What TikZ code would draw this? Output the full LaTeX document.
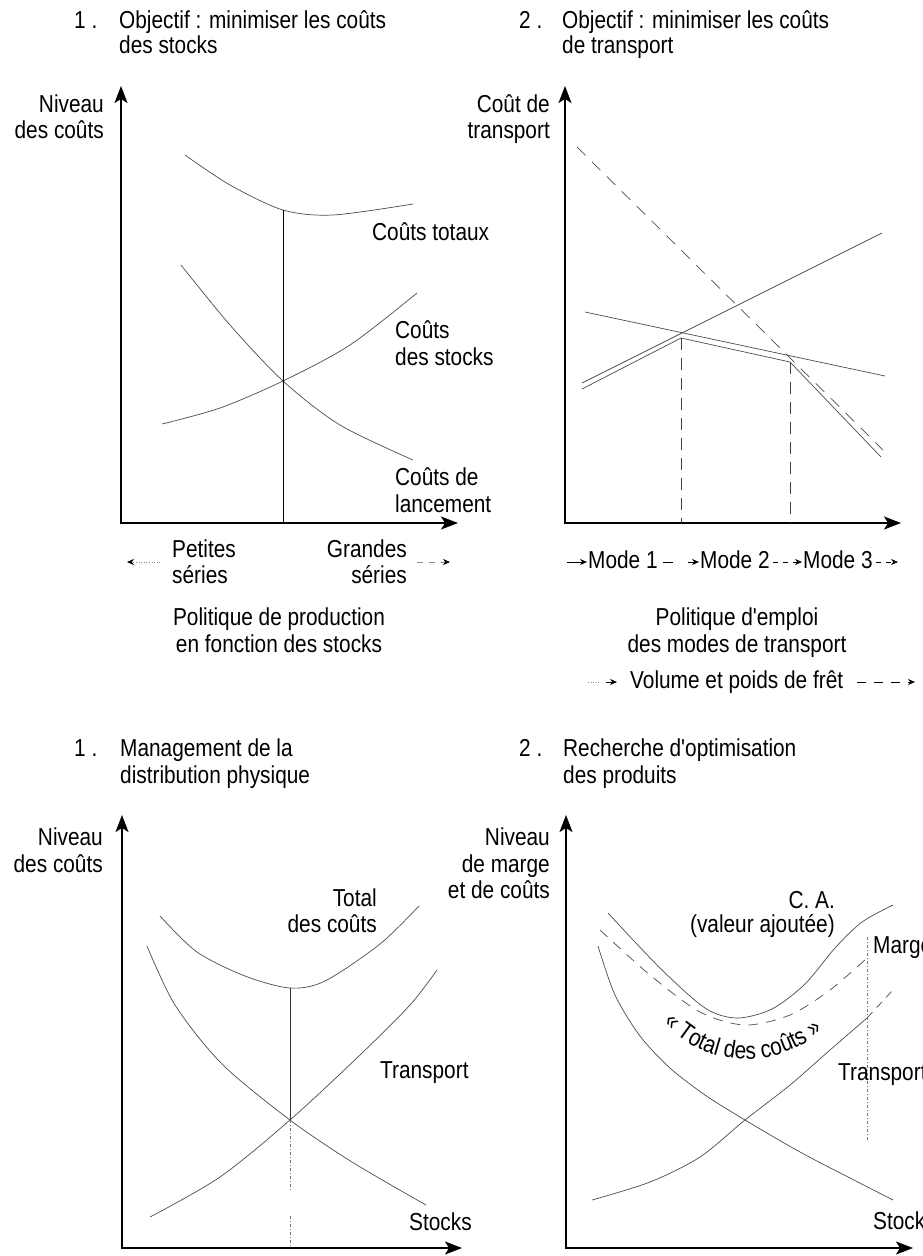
\documentclass[tikz,border=0pt]{standalone}
\usepackage{fontspec}
\setmainfont{Liberation Sans}[FakeStretch=0.85,Ligatures=TeXOff]
\usetikzlibrary{arrows.meta,decorations.text}
\begin{document}
\begin{tikzpicture}[x=1pt,y=-1pt,
 axes/.style={line width=1.5pt,{Stealth[length=17pt,width=13pt,inset=4pt]}-{Stealth[length=17pt,width=13pt,inset=4pt]}},
 crv/.style={line width=0.7pt,black!70},
 lbl/.style={inner sep=0pt,font=\fontsize{24.5}{26}\selectfont},
 tip/.style={-{Stealth[length=7pt,width=6pt,color=black]}},
 vdash/.style={line width=0.8pt,black!75,dash pattern=on 12pt off 8pt},
 vdot/.style={line width=0.6pt,black!55,dash pattern=on 3pt off 2pt on 1pt off 2pt}]
\useasboundingbox (0,0) rectangle (923,1256);

% ================= Panel 1 =================
\node[lbl,anchor=base west] (p1n) at (74,28) {1 .};
\node[lbl,anchor=base west] (p1a) at (119,28) {Objectif : minimiser les coûts};
\node[lbl,anchor=base west] (p1b) at (119,53) {des stocks};
\node[lbl,anchor=base east] (p1y1) at (104,112) {Niveau};
\node[lbl,anchor=base east] (p1y2) at (104,138) {des coûts};
\coordinate (p1o) at (121,523);
\coordinate (p1yt) at (121,86);
\coordinate (p1xt) at (458,523);
\draw[axes] (p1yt) -- (p1o) -- (p1xt);
\draw[crv] plot[smooth] coordinates {(185,155) (230,185) (283,210) (333,215) (413,204)};
\draw[crv] plot[smooth] coordinates {(181,265) (230,325) (283,381) (340,425) (413,460)};
\draw[crv] plot[smooth] coordinates {(162,424) (220,408) (283,381) (350,345) (417,293)};
\coordinate (p1m) at (283,210);
\coordinate (p1b0) at (283,523);
\draw[line width=0.9pt] (p1m) -- (p1b0);
\node[lbl,anchor=base west] (p1tot) at (372,240) {Coûts totaux};
\node[lbl,anchor=base west] (p1s1) at (395,338) {Coûts};
\node[lbl,anchor=base west] (p1s2) at (395,365) {des stocks};
\node[lbl,anchor=base west] (p1l1) at (395,485) {Coûts de};
\node[lbl,anchor=base west] (p1l2) at (395,512) {lancement};
\node[lbl,anchor=base west] (p1pa) at (172,557) {Petites};
\node[lbl,anchor=base west] (p1pb) at (172,583) {séries};
\node[lbl,anchor=base east] (p1ga) at (407,557) {Grandes};
\node[lbl,anchor=base east] (p1gb) at (407,583) {séries};
\coordinate (p1la) at (160,562);
\coordinate (p1lb) at (127,562);
\coordinate (p1ra) at (417,562);
\coordinate (p1rb) at (450,562);
\draw[line width=0.6pt,black!45,dotted,tip] (p1la) -- (p1lb);
\draw[line width=0.6pt,black!45,dash pattern=on 6pt off 6pt,tip] (p1ra) -- (p1rb);
\node[lbl,anchor=base] (p1c1) at (279,625) {Politique de production};
\node[lbl,anchor=base] (p1c2) at (279,652) {en fonction des stocks};

% ================= Panel 2 =================
\node[lbl,anchor=base west] (p2n) at (519,28) {2 .};
\node[lbl,anchor=base west] (p2a) at (562,28) {Objectif : minimiser les coûts};
\node[lbl,anchor=base west] (p2b) at (562,53) {de transport};
\node[lbl,anchor=base east] (p2y1) at (550,112) {Coût de};
\node[lbl,anchor=base east] (p2y2) at (550,138) {transport};
\coordinate (p2o) at (565,523);
\coordinate (p2yt) at (565,86);
\coordinate (p2xt) at (901,523);
\draw[axes] (p2yt) -- (p2o) -- (p2xt);
\draw[crv,dash pattern=on 12pt off 9pt] (577,147) -- (883,450);
\draw[crv] (582,383) -- (882,233);
\draw[crv] (585,312) -- (885,376);
\coordinate (p2k1) at (681,338);
\coordinate (p2k2) at (790,362);
\draw[crv] (582,389) -- (p2k1) -- (p2k2) -- (881,457);
\coordinate (p2b1) at (681,523);
\coordinate (p2b2) at (790,523);
\draw[vdash] (p2k1) -- (p2b1);
\draw[vdash] (p2k2) -- (p2b2);
% mode line
\draw[line width=0.7pt,tip] (567,562) -- (587,562);
\node[lbl,anchor=base west] (m1) at (588,568) {Mode 1};
\draw[line width=0.7pt] (663,562) -- (673,562);
\draw[line width=0.7pt,tip] (688,562) -- (699,562);
\node[lbl,anchor=base west] (m2) at (700,568) {Mode 2};
\draw[line width=0.7pt,dash pattern=on 5pt off 5pt,tip] (773,562) -- (802,562);
\node[lbl,anchor=base west] (m3) at (803,568) {Mode 3};
\draw[line width=0.7pt,dash pattern=on 5pt off 5pt,tip] (876,562) -- (898,562);
\node[lbl,anchor=base] (p2c1) at (737,625) {Politique d'emploi};
\node[lbl,anchor=base] (p2c2) at (737,652) {des modes de transport};
\draw[line width=0.6pt,black!45,dotted] (588,682) -- (601,682);
\draw[line width=0.7pt,tip] (606,682) -- (617,682);
\node[lbl,anchor=base west] (vol) at (630,688) {Volume et poids de frêt};
\draw[line width=0.7pt,dash pattern=on 9pt off 8pt,tip] (857,682) -- (915,682);

% ================= Panel 3 =================
\node[lbl,anchor=base west] (p3n) at (74,756) {1 .};
\node[lbl,anchor=base west] (p3a) at (120,756) {Management de la};
\node[lbl,anchor=base west] (p3b) at (120,783) {distribution physique};
\node[lbl,anchor=base east] (p3y1) at (103,845) {Niveau};
\node[lbl,anchor=base east] (p3y2) at (103,872) {des coûts};
\coordinate (p3o) at (122,1248);
\coordinate (p3yt) at (122,815);
\coordinate (p3xt) at (462,1248);
\draw[axes] (p3yt) -- (p3o) -- (p3xt);
\draw[crv] plot[smooth] coordinates {(160,916) (197,952) (245,976) (290,988) (325,981) (380,944) (419,906)};
\draw[crv] plot[smooth] coordinates {(147,946) (175,1005) (222,1064) (290,1120) (352,1162) (426,1205)};
\draw[crv] plot[smooth] coordinates {(150,1217) (220,1177) (290,1120) (360,1055) (410,1005) (437,970)};
\coordinate (p3m) at (290,988);
\coordinate (p3x) at (290,1120);
\coordinate (p3d) at (290,1190);
\coordinate (p3e) at (290,1216);
\coordinate (p3b0) at (290,1248);
\draw[line width=0.7pt,black!80] (p3m) -- (p3x);
\draw[vdot] (p3x) -- (p3d);
\draw[vdot] (p3e) -- (p3b0);
\node[lbl,anchor=base east] (p3t1) at (377,906) {Total};
\node[lbl,anchor=base east] (p3t2) at (377,932) {des coûts};
\node[lbl,anchor=base west] (p3tr) at (380,1078) {Transport};
\node[lbl,anchor=base west] (p3st) at (409,1230) {Stocks};

% ================= Panel 4 =================
\node[lbl,anchor=base west] (p4n) at (519,756) {2 .};
\node[lbl,anchor=base west] (p4a) at (563,756) {Recherche d'optimisation};
\node[lbl,anchor=base west] (p4b) at (563,783) {des produits};
\node[lbl,anchor=base east] (p4y1) at (550,845) {Niveau};
\node[lbl,anchor=base east] (p4y2) at (550,872) {de marge};
\node[lbl,anchor=base east] (p4y3) at (550,898) {et de coûts};
\coordinate (p4o) at (566,1248);
\coordinate (p4yt) at (566,815);
\coordinate (p4xt) at (913,1248);
\draw[axes] (p4yt) -- (p4o) -- (p4xt);
\draw[crv] plot[smooth] coordinates {(608,913) (660,968) (705,1008) (737,1018) (772,1009) (805,984) (835,948) (862,922) (893,905)};
\draw[crv,dash pattern=on 10pt off 8pt] plot[smooth] coordinates {(600,930) (650,975) (700,1012) (745,1025) (790,1015) (830,990) (867,958)};
\draw[crv] plot[smooth] coordinates {(598,946) (615,995) (640,1036) (670,1068) (705,1095) (745,1120) (800,1152) (850,1178) (893,1200)};
\draw[crv] plot[smooth] coordinates {(592,1200) (650,1182) (700,1157) (745,1120) (790,1085) (830,1050) (867,1018)};
\draw[crv,dash pattern=on 8pt off 6pt] (867,1018) -- (893,990);
\coordinate (p4v1) at (867,937);
\coordinate (p4v2) at (867,1140);
\draw[vdot] (p4v1) -- (p4v2);
\node[lbl,anchor=base east] (p4ca1) at (835,908) {C. A.};
\node[lbl,anchor=base east] (p4ca2) at (835,932) {(valeur ajoutée)};
\node[lbl,anchor=base west] (p4mg) at (873,953) {Marge};
\node[lbl,anchor=base west] (p4tr) at (838,1080) {Transport};
\node[lbl,anchor=base west] (p4st) at (873,1229) {Stocks};
\path[decorate,decoration={text along path,text align=center,
  text={|\fontsize{24.5}{26}\selectfont|« Total des coûts »}}]
  (660,1018) .. controls (700,1068) and (775,1074) .. (827,1027);
\end{tikzpicture}
\end{document}
